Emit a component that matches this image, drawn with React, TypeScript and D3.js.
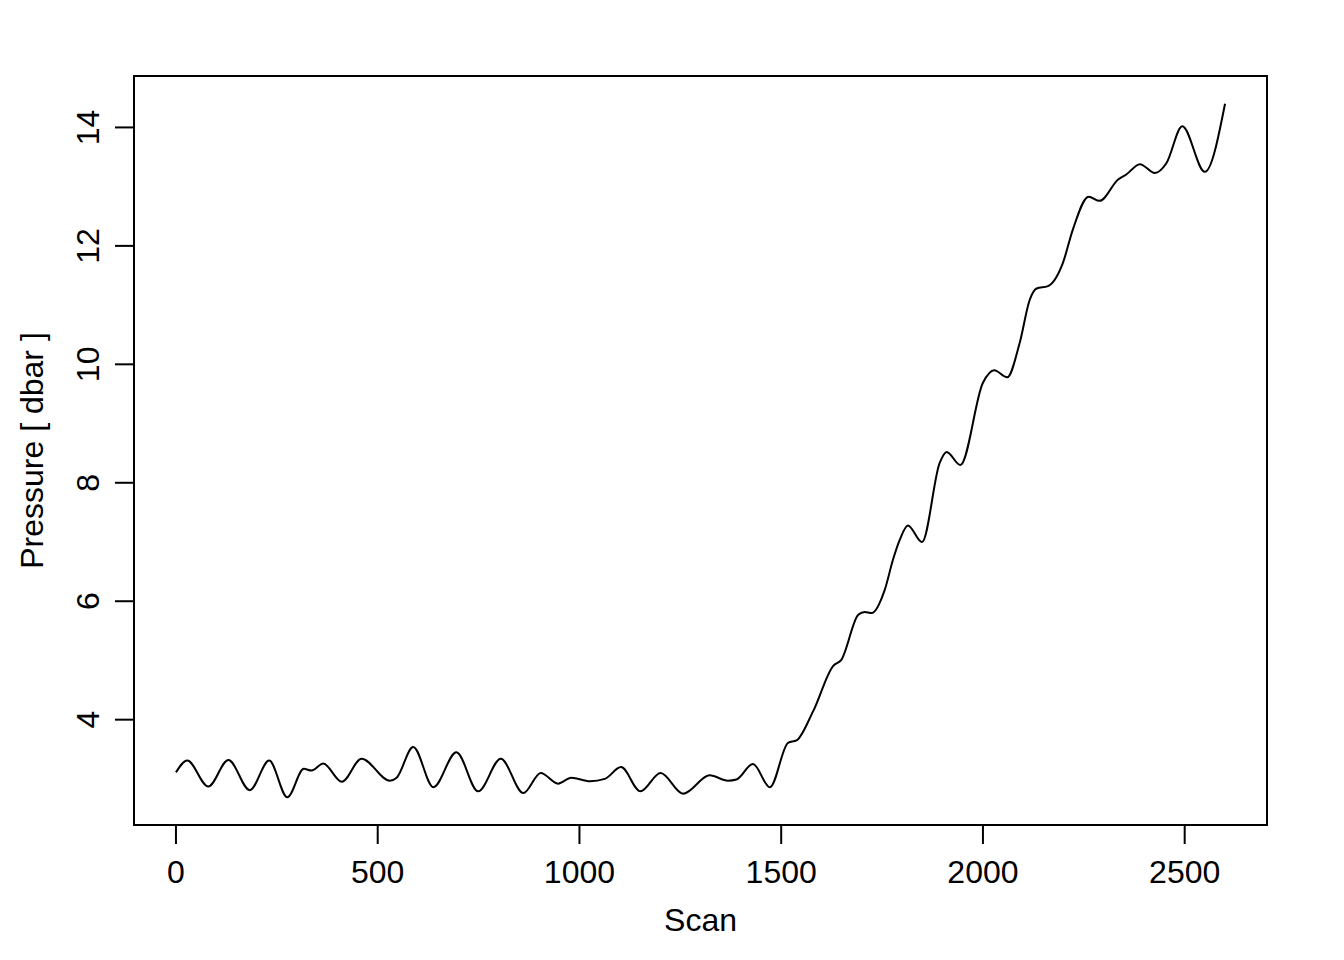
import React from "react";
import * as d3 from "d3";

const scans: number[] = [0, 28, 80, 130, 183, 231, 276, 317, 336, 365, 411, 460, 530, 547, 588, 638, 695, 749, 805, 861, 904, 947, 980, 1026, 1063, 1103, 1151, 1201, 1257, 1323, 1368, 1389, 1430, 1472, 1517, 1538, 1579, 1629, 1649, 1691, 1707, 1724, 1757, 1777, 1794, 1814, 1849, 1893, 1910, 1944, 2000, 2028, 2060, 2091, 2116, 2133, 2161, 2198, 2223, 2262, 2289, 2335, 2356, 2389, 2426, 2455, 2494, 2550, 2600];
const pressure: number[] = [3.11, 3.31, 2.87, 3.32, 2.81, 3.31, 2.69, 3.17, 3.14, 3.26, 2.95, 3.34, 2.97, 3.02, 3.54, 2.86, 3.45, 2.79, 3.34, 2.76, 3.10, 2.92, 3.02, 2.96, 3.00, 3.20, 2.79, 3.10, 2.75, 3.06, 2.97, 2.99, 3.25, 2.86, 3.61, 3.65, 4.14, 4.91, 5.01, 5.77, 5.82, 5.80, 6.20, 6.70, 7.04, 7.28, 7.00, 8.34, 8.52, 8.30, 9.69, 9.90, 9.78, 10.36, 11.09, 11.28, 11.32, 11.71, 12.28, 12.83, 12.76, 13.12, 13.21, 13.38, 13.23, 13.40, 14.02, 13.25, 14.40];
const xTicks: number[] = [0, 500, 1000, 1500, 2000, 2500];
const yTicks: number[] = [4, 6, 8, 10, 12, 14];
const xLabel = "Scan";
const yLabel = "Pressure [ dbar ]";

const W = 1344, H = 960;
const L = 134, R = 1267, T = 76, B = 825;

export default function App() {
  const xMin = d3.min(scans)!, xMax = d3.max(scans)!;
  const yMin = d3.min(pressure)!, yMax = d3.max(pressure)!;
  const xPad = (xMax - xMin) * 0.04;
  const yPad = (yMax - yMin) * 0.04;
  const x = d3.scaleLinear().domain([xMin - xPad, xMax + xPad]).range([L, R]);
  const y = d3.scaleLinear().domain([yMin - yPad, yMax + yPad]).range([B, T]);
  const pts: [number, number][] = scans.map((s, i) => [s, pressure[i]]);
  const line = d3.line<[number, number]>().x(d => x(d[0])).y(d => y(d[1])).curve(d3.curveMonotoneX);
  const font = "'Liberation Sans', Arial, Helvetica, sans-serif";
  const fs = 32;
  return (
    <svg width={W} height={H} style={{ position: "absolute", left: 0, top: 0, background: "#fff" }} fontFamily={font}>
      <rect x={0} y={0} width={W} height={H} fill="#fff" />
      <path d={line(pts) || ""} fill="none" stroke="#000" strokeWidth={2} strokeLinejoin="round" />
      <rect x={L} y={T} width={R - L} height={B - T} fill="none" stroke="#000" strokeWidth={2} />
      {/* x axis */}
      <line x1={x(xTicks[0])} x2={x(xTicks[xTicks.length - 1])} y1={B} y2={B} stroke="#000" strokeWidth={2} />
      {xTicks.map(t => (
        <g key={t}>
          <line x1={x(t)} x2={x(t)} y1={B} y2={B + 19} stroke="#000" strokeWidth={2} />
          <text x={x(t)} y={883} fontSize={fs} textAnchor="middle">{t}</text>
        </g>
      ))}
      <text x={(L + R) / 2} y={931} fontSize={fs} textAnchor="middle">{xLabel}</text>
      {/* y axis */}
      <line x1={L} x2={L} y1={y(yTicks[0])} y2={y(yTicks[yTicks.length - 1])} stroke="#000" strokeWidth={2} />
      {yTicks.map(t => (
        <g key={t}>
          <line x1={L} x2={L - 19} y1={y(t)} y2={y(t)} stroke="#000" strokeWidth={2} />
          <text transform={`translate(99,${y(t)}) rotate(-90)`} fontSize={fs} textAnchor="middle">{t}</text>
        </g>
      ))}
      <text transform={`translate(43,${(T + B) / 2}) rotate(-90)`} fontSize={fs} textAnchor="middle">{yLabel}</text>
    </svg>
  );
}
